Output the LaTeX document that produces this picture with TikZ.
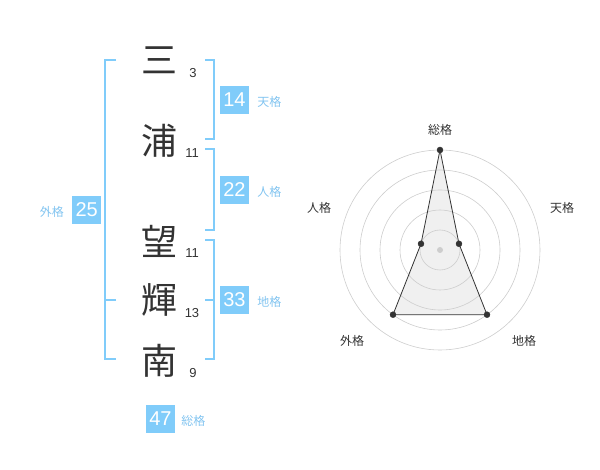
\documentclass[tikz,border=0pt]{standalone}
\usepackage{fontspec}
\setmainfont{Liberation Sans}
\newfontfamily\jpfont{Noto Sans CJK JP}
\usetikzlibrary{positioning,calc}
\definecolor{kakublue}{RGB}{128,204,250}
\definecolor{kakutext}{RGB}{130,196,240}
\definecolor{inkgray}{RGB}{51,51,51}
\definecolor{ringgray}{RGB}{205,205,205}
\tikzset{
    kanji/.style={
        font=\jpfont\fontsize{36}{36}\selectfont,
        text=inkgray,
        inner sep=0pt,
    },
    strokes/.style={
        font=\fontsize{13}{13}\selectfont,
        text=inkgray,
        inner sep=0pt,
    },
    kakubox/.style={
        rectangle,
        fill=kakublue,
        text=white,
        minimum width=29pt,
        minimum height=28pt,
        inner sep=0pt,
        font=\fontsize{20}{20}\selectfont,
    },
    kakulabel/.style={
        font=\jpfont\fontsize{12}{12}\selectfont,
        text=kakutext,
        inner sep=0pt,
    },
    bracket/.style={
        draw=kakublue,
        line width=1.6pt,
    },
    ring/.style={
        draw=ringgray,
        line width=0.6pt,
    },
    radar-point/.style={
        circle,
        draw=inkgray,
        fill=inkgray,
        inner sep=0pt,
        minimum size=6pt,
    },
    axislabel/.style={
        font=\jpfont\fontsize{12}{12}\selectfont,
        text=inkgray,
        inner sep=0pt,
    },
    node distance=6pt,
}
\begin{document}
\begin{tikzpicture}[x=1pt,y=-1pt]
    \useasboundingbox (0,0) rectangle (600,470);
    % name characters and stroke counts
    \node [kanji] (K1) at (159,60) {三};
    \node [kanji] (K2) at (159,141) {浦};
    \node [kanji] (K3) at (159,241) {望};
    \node [kanji] (K4) at (159,300) {輝};
    \node [kanji] (K5) at (159,361) {南};
    \node [strokes] (S1) at (193,73) {3};
    \node [strokes] (S2) at (192,153) {11};
    \node [strokes] (S3) at (192,253) {11};
    \node [strokes] (S4) at (192,313) {13};
    \node [strokes] (S5) at (193,373) {9};
    % brackets
    \coordinate (G1) at (116,60);
    \coordinate (G2) at (116,300);
    \coordinate (G3) at (116,359);
    \draw [bracket] (G1) -- ++(-11,0) |- (G3);
    \draw [bracket] (G2) -- ++(-11,0);
    \coordinate (T1) at (205,60);
    \coordinate (T2) at (205,139);
    \draw [bracket] (T1) -- ++(9,0) |- (T2);
    \coordinate (J1) at (205,149);
    \coordinate (J2) at (205,230);
    \draw [bracket] (J1) -- ++(9,0) |- (J2);
    \coordinate (C1) at (205,240);
    \coordinate (C2) at (205,300);
    \coordinate (C3) at (205,359);
    \draw [bracket] (C1) -- ++(9,0) |- (C3);
    \draw [bracket] (C2) -- ++(9,0);
    % kaku values
    \node [kakubox] (Ten) at (234.5,100) {14};
    \node [kakulabel,right=8pt of Ten,yshift=-2pt] (TenL) {天格};
    \node [kakubox] (Jin) at (234.5,190) {22};
    \node [kakulabel,right=8pt of Jin,yshift=-2pt] (JinL) {人格};
    \node [kakubox] (Chi) at (234.5,300) {33};
    \node [kakulabel,right=8pt of Chi,yshift=-2pt] (ChiL) {地格};
    \node [kakubox] (Gai) at (86.7,210) {25};
    \node [kakulabel,left=8pt of Gai,yshift=-2pt] (GaiL) {外格};
    \node [kakubox] (Sou) at (160.5,419) {47};
    \node [kakulabel,right=6pt of Sou,yshift=-2pt] (SouL) {総格};
    % radar chart
    \coordinate (O) at (440,250);
    \path (O) ++(0,-100) coordinate (R1);
    \path (O) ++(19.0,-6.2) coordinate (R2);
    \path (O) ++(47.0,64.7) coordinate (R3);
    \path (O) ++(-47.0,64.7) coordinate (R4);
    \path (O) ++(-19.0,-6.2) coordinate (R5);
    \fill [black!6] (R1) -- (R2) -- (R3) -- (R4) -- (R5) -- cycle;
    \foreach \r in {20,40,60,80,100}
        \draw [ring] (O) circle (\r);
    \fill [ringgray] (O) circle (3);
    \draw [inkgray,line width=0.8pt]
        (R1) -- (R2) -- (R3) -- (R4) -- (R5) -- cycle;
    \node [radar-point] (P1) at (R1) {};
    \node [radar-point] (P2) at (R2) {};
    \node [radar-point] (P3) at (R3) {};
    \node [radar-point] (P4) at (R4) {};
    \node [radar-point] (P5) at (R5) {};
    \node [axislabel] (A1) at (440,130) {総格};
    \node [axislabel] (A2) at (562,208) {天格};
    \node [axislabel] (A3) at (524,341) {地格};
    \node [axislabel] (A4) at (352,341) {外格};
    \node [axislabel] (A5) at (319,208) {人格};
\end{tikzpicture}
\end{document}
